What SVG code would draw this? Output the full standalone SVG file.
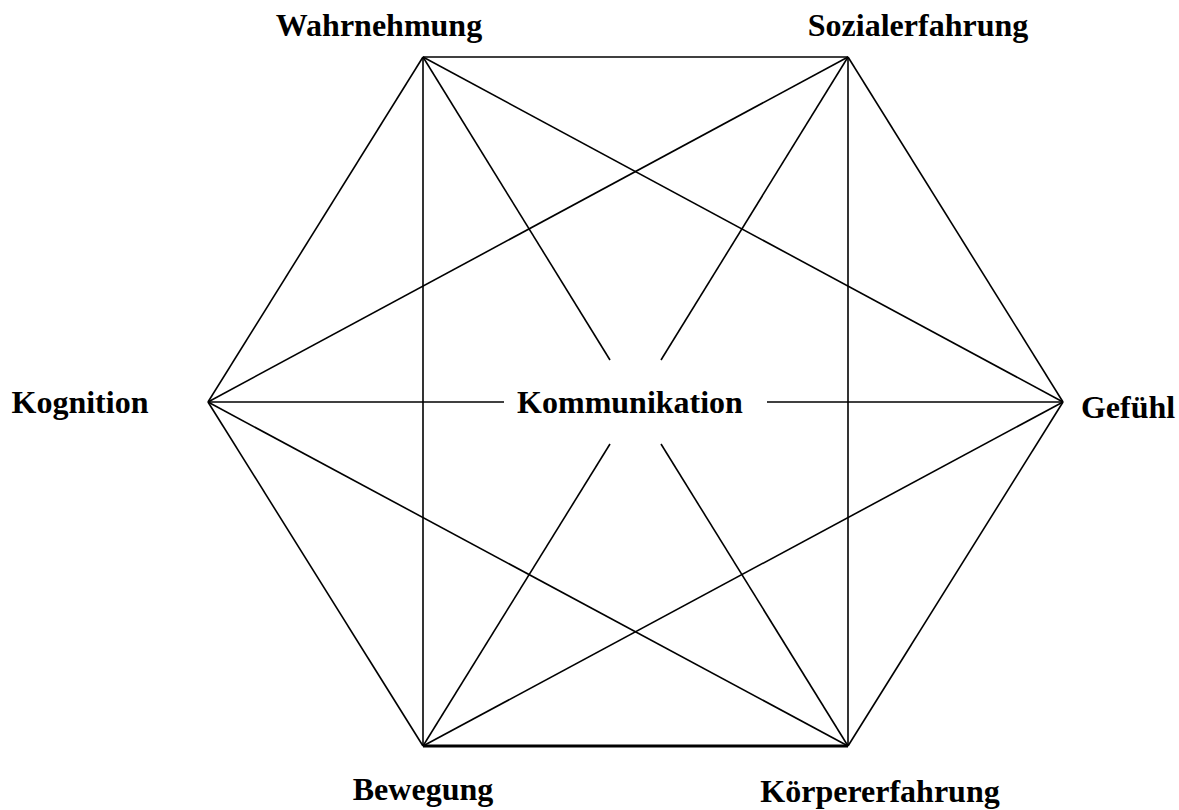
<svg xmlns="http://www.w3.org/2000/svg" width="1179" height="810" viewBox="0 0 1179 810">
<style>
.e{stroke:#000;stroke-width:1.6;fill:none;stroke-linecap:butt}
.t{font-family:"Liberation Serif","Times New Roman",serif;font-weight:bold;font-size:32px;fill:#000;text-anchor:middle}
</style>
<rect width="1179" height="810" fill="#fff"/>
<g id="connectors">
<!-- hexagon -->
<line class="e" x1="423" y1="57" x2="848" y2="57"/>
<line class="e" x1="848" y1="57" x2="1063" y2="402"/>
<line class="e" x1="1063" y1="402" x2="848" y2="746"/>
<line class="e" x1="848" y1="746" x2="423" y2="746" style="stroke-width:3"/>
<line class="e" x1="423" y1="746" x2="208" y2="402"/>
<line class="e" x1="208" y1="402" x2="423" y2="57"/>
<!-- short diagonals -->
<line class="e" x1="423" y1="57" x2="1063" y2="402"/>
<line class="e" x1="423" y1="57" x2="423" y2="746"/>
<line class="e" x1="848" y1="57" x2="208" y2="402"/>
<line class="e" x1="848" y1="57" x2="848" y2="746"/>
<line class="e" x1="1063" y1="402" x2="423" y2="746"/>
<line class="e" x1="848" y1="746" x2="208" y2="402"/>
<!-- long diagonals broken at centre -->
<line class="e" x1="423" y1="57" x2="610" y2="360"/>
<line class="e" x1="661" y1="444" x2="848" y2="746"/>
<line class="e" x1="848" y1="57" x2="661" y2="360"/>
<line class="e" x1="610" y1="444" x2="423" y2="746"/>
<line class="e" x1="208" y1="402" x2="504" y2="402"/>
<line class="e" x1="767" y1="402" x2="1063" y2="402"/>
</g>
<g id="wahrnehmung"><text class="t" x="379" y="36">Wahrnehmung</text></g>
<g id="sozialerfahrung"><text class="t" x="918" y="36">Sozialerfahrung</text></g>
<g id="gefuehl"><text class="t" x="1128" y="418">Gefühl</text></g>
<g id="koerpererfahrung"><text class="t" x="880" y="802">Körpererfahrung</text></g>
<g id="bewegung"><text class="t" x="423" y="800">Bewegung</text></g>
<g id="kognition"><text class="t" x="80" y="413">Kognition</text></g>
<g id="kommunikation"><text class="t" x="630" y="413">Kommunikation</text></g>
</svg>
